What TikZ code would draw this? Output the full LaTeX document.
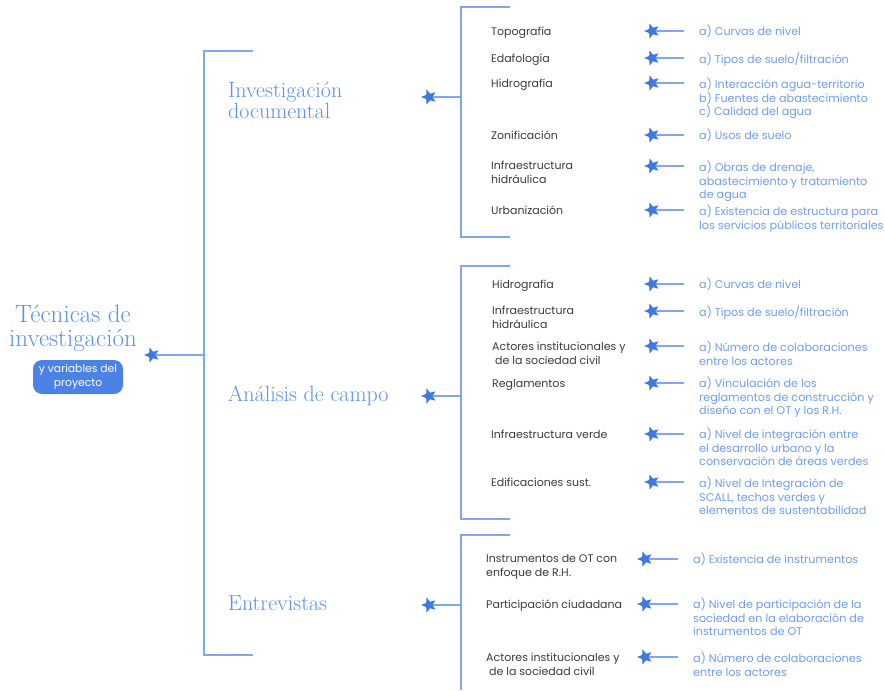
\documentclass[tikz,border=0pt]{standalone}
\usepackage{fontspec}
\newfontfamily\itemfont{Poppins}
\usetikzlibrary{shapes.geometric,positioning}

\definecolor{linecol}{HTML}{7EA6F2}
\definecolor{starcol}{HTML}{3F78E0}
\definecolor{headcol}{HTML}{5C8FEE}
\definecolor{desccol}{HTML}{6D9CF2}
\definecolor{itemcol}{HTML}{3A3A3A}
\definecolor{badgecol}{HTML}{4C82E6}

\tikzset{
  link/.style={draw=linecol, line width=1.1pt},
  pin/.style={star, star points=5, star point ratio=2.3, fill=starcol,
              shape border rotate=90, inner sep=0pt, minimum size=16pt},
  item/.style={anchor=north west, inner sep=0pt, align=left, text=itemcol,
               font=\itemfont\fontsize{11}{13.7}\selectfont,
               execute at begin node=\strut},
  desc/.style={anchor=north west, inner xsep=15pt, inner ysep=0pt, align=left,
               text=desccol, font=\itemfont\fontsize{11.2}{13.5}\selectfont,
               execute at begin node=\strut},
  head/.style={anchor=north west, inner sep=0pt, align=left, text=headcol,
               font=\fontsize{22}{21}\selectfont, execute at begin node=\strut}
}

\begin{document}
\begin{tikzpicture}[x=1pt,y=-1pt]
  \useasboundingbox (0,0) rectangle (885,690);

  % root
  \node[anchor=north, inner sep=0pt, align=center, text=headcol,
        font=\fontsize{25}{24}\selectfont, execute at begin node=\strut] (root) at (73,305.2)
       {Técnicas de\\investigación};
  \node[fill=badgecol, rounded corners=9pt, text=white, align=center,
        minimum width=90pt, minimum height=34pt, inner sep=1pt,
        font=\itemfont\fontsize{10.8}{14}\selectfont] (badge) at (78,377)
       {y variables del\\proyecto};
  \node[pin] (rs) at (152,355) {};

  % main bracket
  \draw[link] (253,51) -- (204,51) coordinate (b0) -- (204,655) -- (253,655);
  \draw[link] (rs.east) -- (rs -| b0);

  % categories
  \node[head] (c1) at (228,82.3) {Investigación\\documental};
  \node[head] (c2) at (228,385.3) {Análisis de campo};
  \node[head] (c3) at (228,595.3) {Entrevistas};
  \node[pin] (c1s) at (429,97) {};
  \node[pin] (c2s) at (429,396) {};
  \node[pin] (c3s) at (429,605) {};

  \draw[link] (510,7) -- (461,7) coordinate (b1) -- (461,237) -- (510,237);
  \draw[link] (510,266) -- (461,266) coordinate (b2) -- (461,519) -- (510,519);
  \draw[link] (510,535) -- (461,535) coordinate (b3) -- (461,690);
  \draw[link] (c1s.east) -- (c1s -| b1);
  \draw[link] (c2s.east) -- (c2s -| b2);
  \draw[link] (c3s.east) -- (c3s -| b3);

  % Investigacion documental
  \node[item] (t1) at (491,26) {Topografía};
  \node[item] (t2) at (491,53) {Edafología};
  \node[item] (t3) at (491,78) {Hidrografía};
  \node[item] (t4) at (491,130) {Zonificación};
  \node[item] (t5) at (491,161) {Infraestructura\\hidráulica};
  \node[item] (t6) at (491,205) {Urbanización};
  \node[pin] (t1s) at (652,31) {};
  \node[pin] (t2s) at (652,58) {};
  \node[pin] (t3s) at (652,83) {};
  \node[pin] (t4s) at (652,135) {};
  \node[pin] (t5s) at (652,166) {};
  \node[pin] (t6s) at (652,210) {};
  \node[desc] (t1d) at (684,25) {a) Curvas de nivel};
  \node[desc] (t2d) at (684,53) {a) Tipos de suelo/filtración};
  \node[desc] (t3d) at (684,78) {a) Interacción agua-territorio\\b) Fuentes de abastecimiento\\c) Calidad del agua};
  \node[desc] (t4d) at (684,129) {a) Usos de suelo};
  \node[desc] (t5d) at (684,161) {a) Obras de drenaje,\\abastecimiento y tratamiento\\de agua};
  \node[desc] (t6d) at (684,205) {a) Existencia de estructura para\\los servicios públicos territoriales};

  % Analisis de campo
  \node[item] (a1) at (492,279) {Hidrografía};
  \node[item] (a2) at (492,306) {Infraestructura\\hidráulica};
  \node[item] (a3) at (492,342) {Actores institucionales y\\\hspace{3pt}de la sociedad civil};
  \node[item] (a4) at (492,378) {Reglamentos};
  \node[item] (a5) at (491,429) {Infraestructura verde};
  \node[item] (a6) at (491,477) {Edificaciones sust.};
  \node[pin] (a1s) at (652,284) {};
  \node[pin] (a2s) at (652,311) {};
  \node[pin] (a3s) at (652,346) {};
  \node[pin] (a4s) at (652,383) {};
  \node[pin] (a5s) at (652,434) {};
  \node[pin] (a6s) at (652,482) {};
  \node[desc] (a1d) at (684,278) {a) Curvas de nivel};
  \node[desc] (a2d) at (684,306) {a) Tipos de suelo/filtración};
  \node[desc] (a3d) at (684,341) {a) Número de colaboraciones\\entre los actores};
  \node[desc] (a4d) at (684,377) {a) Vinculación de los\\reglamentos de construcción y\\diseño con el OT y los R.H.};
  \node[desc] (a5d) at (684,428) {a) Nivel de integración entre\\el desarrollo urbano y la\\conservación de áreas verdes};
  \node[desc] (a6d) at (684,477) {a) Nivel de Integración de\\SCALL, techos verdes y\\elementos de sustentabilidad};

  % Entrevistas
  \node[item] (e1) at (486,554) {Instrumentos de OT con\\enfoque de R.H.};
  \node[item] (e2) at (486,599) {Participación ciudadana};
  \node[item] (e3) at (486,653) {Actores institucionales y\\\hspace{3pt}de la sociedad civil};
  \node[pin] (e1s) at (645,559) {};
  \node[pin] (e2s) at (645,604) {};
  \node[pin] (e3s) at (645,657) {};
  \node[desc] (e1d) at (678,553) {a) Existencia de instrumentos};
  \node[desc] (e2d) at (678,598) {a) Nivel de participación de la\\sociedad en la elaboración de\\instrumentos de OT};
  \node[desc] (e3d) at (678,652) {a) Número de colaboraciones\\entre los actores};

  \foreach \n in {t1,t2,t3,t4,t5,t6,a1,a2,a3,a4,a5,a6,e1,e2,e3}
    \draw[link] (\n s.east) -- (\n s -| \n d.west);
\end{tikzpicture}
\end{document}
